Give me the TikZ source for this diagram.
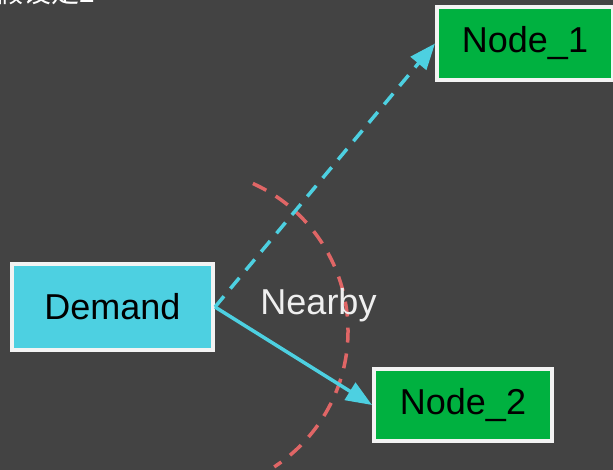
\documentclass[tikz,border=0pt]{standalone}
\usepackage{fontspec}
\setmainfont{Liberation Sans}
\newfontfamily\cjkfont{Noto Sans CJK SC}
\usetikzlibrary{arrows.meta}
\definecolor{bg}{HTML}{434343}
\definecolor{cyanbox}{HTML}{4DD0E1}
\definecolor{greenbox}{HTML}{00B140}
\definecolor{redarc}{HTML}{E06666}
\definecolor{boxborder}{HTML}{F3F3F3}
\definecolor{lighttext}{HTML}{EFEFEF}
\begin{document}
\begin{tikzpicture}[x=1pt,y=-1pt,
  box/.style={draw=boxborder, line width=4pt, inner sep=0pt, font=\fontsize{36}{40}\selectfont, text=black},
  conn/.style={draw=cyanbox, line width=3.5pt, -{Triangle[length=26pt,width=20pt]}},
  dashconn/.style={conn, dash pattern=on 14pt off 10pt},
  arcline/.style={draw=redarc, line width=3.5pt, dash pattern=on 15pt off 11pt}]
\path[use as bounding box, fill=bg] (0,0) rectangle (613,470);
\begin{scope}
\clip (0,0) rectangle (613,470);
\node[anchor=base east, text=white, font=\cjkfont\fontsize{28}{30}\selectfont, inner sep=0pt] (title) at (95,3) {假设定2};
\draw[arcline] (252.9,183.5) arc[start angle=-65.6, end angle=57, radius=162];
\node[box, fill=cyanbox, minimum width=201pt, minimum height=86pt] (demand) at (112.5,307) {Demand};
\node[box, fill=greenbox, minimum width=176pt, minimum height=73pt] (n1) at (525,43.5) {Node\_1};
\node[box, fill=greenbox, minimum width=178pt, minimum height=72pt] (n2) at (463,405) {Node\_2};
\node[anchor=base, text=lighttext, font=\fontsize{36}{40}\selectfont, inner sep=0pt] (nearby) at (318.5,314) {Nearby};
\draw[dashconn] (demand.east) -- (n1.west);
\draw[conn] (demand.east) -- (n2.west);
\end{scope}
\end{tikzpicture}
\end{document}
